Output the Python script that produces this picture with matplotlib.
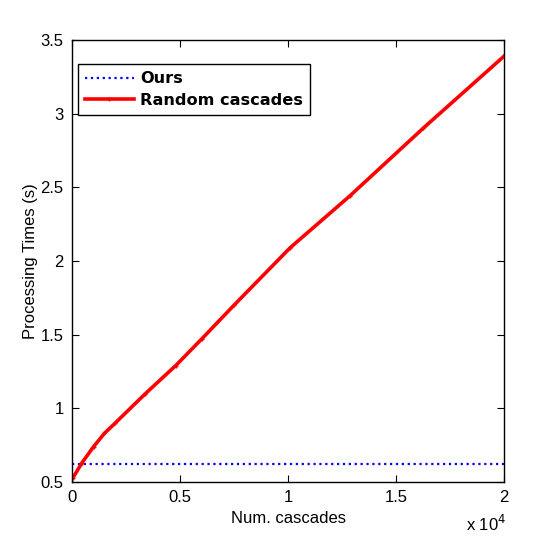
import matplotlib.pyplot as plt

# === Data ===
num_cascades = [50, 460, 1000, 1500, 2000, 3400, 4800, 6000, 7500, 10100, 12850, 16250, 20000]
random_times = [0.53, 0.63, 0.74, 0.83, 0.90, 1.10, 1.29, 1.47, 1.70, 2.09, 2.44, 2.90, 3.39]
ours_x = [0, 20000]
ours_times = [0.62, 0.62]

xtick_vals = [0, 5000, 10000, 15000, 20000]
xtick_labels = ["0", "0.5", "1", "1.5", "2"]
ytick_vals = [0.5, 1, 1.5, 2, 2.5, 3, 3.5]
ytick_labels = ["0.5", "1", "1.5", "2", "2.5", "3", "3.5"]

plt.rcParams['font.family'] = ['Liberation Sans', 'DejaVu Sans']

fig = plt.figure(figsize=(5.56, 5.42), dpi=100)
ax = fig.add_axes([0.1295, 0.1107, 0.777, 0.8155])

ax.plot(ours_x, ours_times, color='blue', linestyle=':', linewidth=1.6, label='Ours')
ax.plot(num_cascades, random_times, color='red', linestyle='-', linewidth=2.6,
        marker='+', markersize=3, markeredgewidth=1, label='Random cascades')

ax.set_xlim(0, 20000)
ax.set_ylim(0.5, 3.5)
ax.set_xticks(xtick_vals)
ax.set_xticklabels(xtick_labels)
ax.set_yticks(ytick_vals)
ax.set_yticklabels(ytick_labels)
ax.tick_params(direction='in', top=True, right=True, length=5, labelsize=12, pad=6)
for s in ax.spines.values():
    s.set_linewidth(1)

ax.set_xlabel("Num. cascades", fontsize=12, labelpad=4)
ax.set_ylabel("Processing Times (s)", fontsize=12, labelpad=1.5)
fig.text(0.838, 0.015, r"x 10$^{4}$", fontsize=12, ha='left', va='bottom')

leg = ax.legend(loc='upper left', bbox_to_anchor=(0.0139, 0.9457), borderaxespad=0,
                fancybox=False, edgecolor='black', framealpha=1,
                handlelength=3.0, handletextpad=0.42,
                prop={'family': 'DejaVu Sans', 'weight': 'bold', 'size': 11.6},
                borderpad=0.45, labelspacing=0.42)
leg.get_frame().set_linewidth(1)

fig.savefig("out.png", dpi=100)
